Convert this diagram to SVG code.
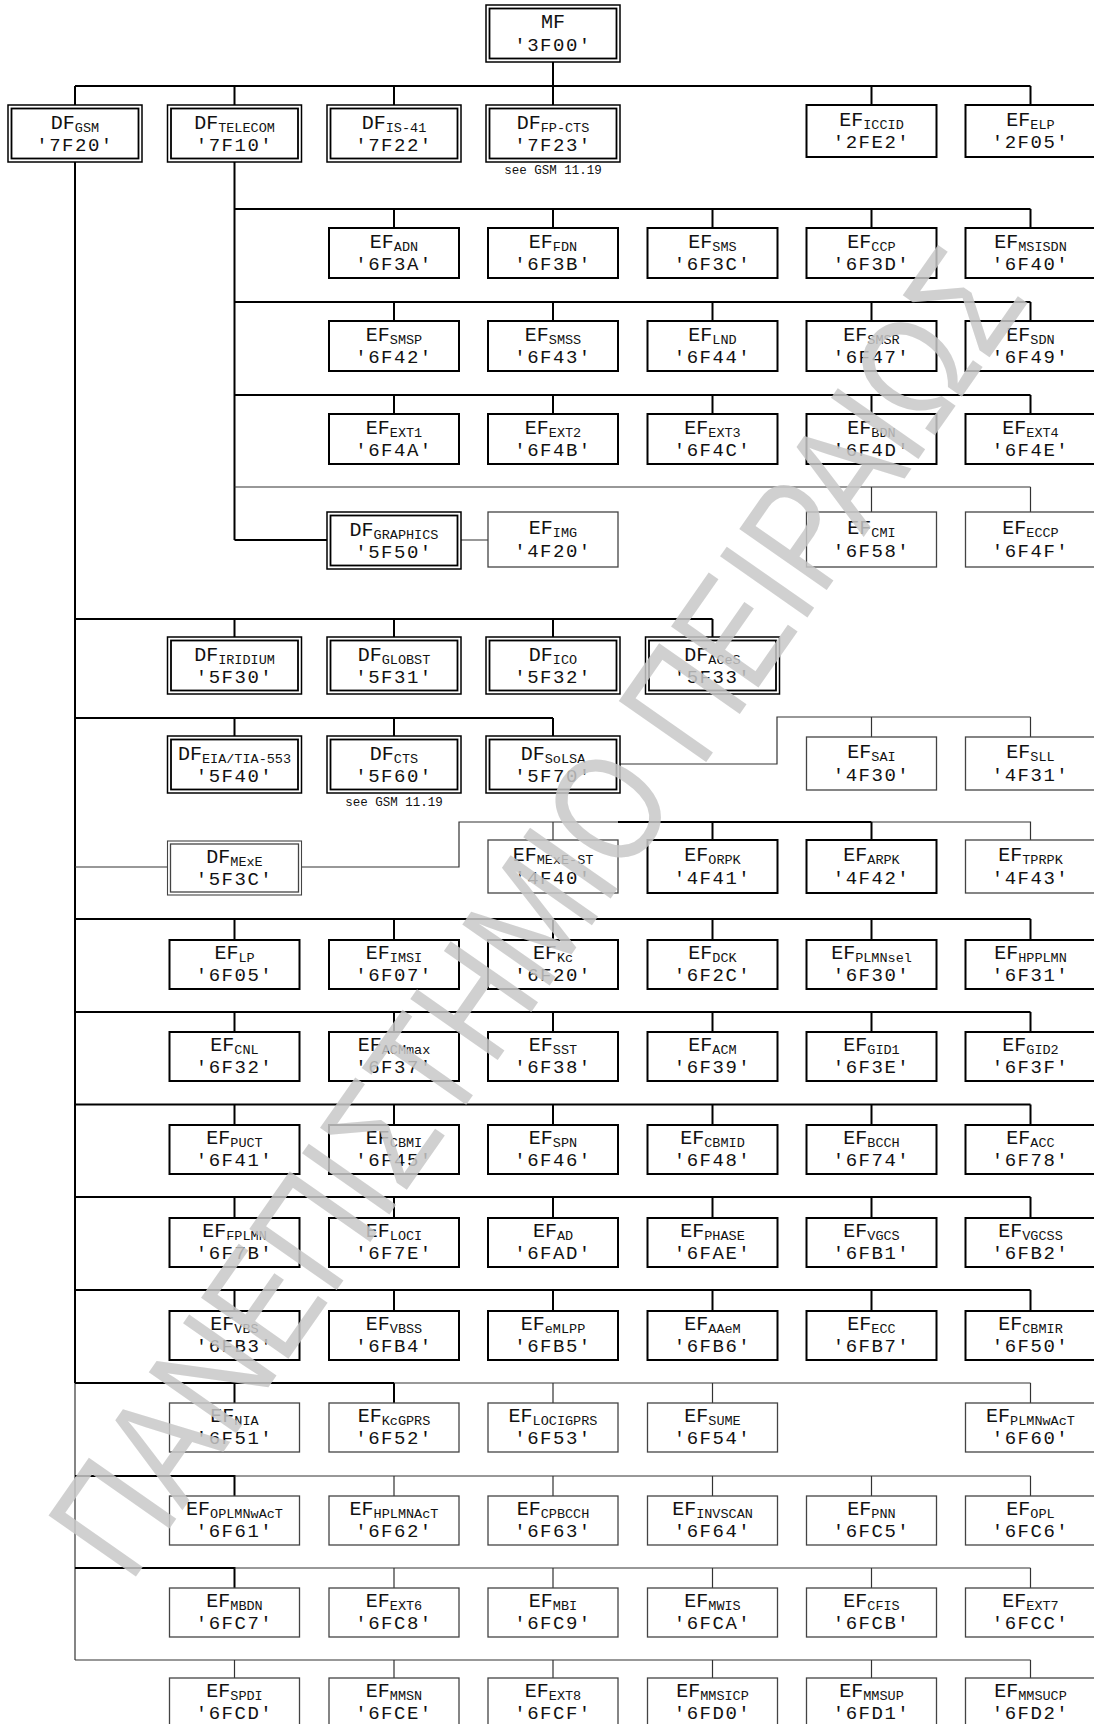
<svg xmlns="http://www.w3.org/2000/svg" width="1094" height="1724" viewBox="0 0 1094 1724">
<style>
.ln{stroke:#000;stroke-width:2;fill:none}
.lg{stroke:#333;stroke-width:1.2;fill:none}
.ef{fill:#fff;stroke:#000;stroke-width:2}
.efg{fill:#fff;stroke:#444;stroke-width:1.3}
.dfo{fill:#fff;stroke:#000;stroke-width:1.5}
.dfi{fill:none;stroke:#000;stroke-width:1.8}
.dfog{fill:#fff;stroke:#444;stroke-width:1.1}
.dfig{fill:none;stroke:#444;stroke-width:1.3}
.t1{font-family:"Liberation Mono",monospace;font-size:20px;text-anchor:middle;fill:#111}
.s{font-size:13.5px}
.t2{font-family:"Liberation Mono",monospace;font-size:19px;letter-spacing:1.5px;text-anchor:middle;fill:#111}
.note{font-family:"Liberation Mono",monospace;font-size:12.5px;text-anchor:middle;fill:#111}
.wm{font-family:"Liberation Sans","DejaVu Sans",sans-serif;font-size:155px;fill:#c8c8c8;fill-opacity:0.85}
</style>
<rect width="1094" height="1724" fill="#fff"/>
<g id="connectors">
<path class="ln" d="M553,62V105M75,86H1030.5M75,86V105M234.5,86V105M394,86V105M871.5,86V105M1030.5,86V105"/>
<path class="ln" d="M75,162V1383M234.5,162V540"/>
<path class="ln" d="M234.5,209H1030.5M394,209V228M553,209V228M712.5,209V228M871.5,209V228M1030.5,209V228"/>
<path class="ln" d="M234.5,302H1030.5M394,302V321M553,302V321M712.5,302V321M871.5,302V321M1030.5,302V321"/>
<path class="ln" d="M234.5,395H1030.5M394,395V414M553,395V414M712.5,395V414M871.5,395V414M1030.5,395V414"/>
<path class="lg" d="M234.5,487H1030.5M871.5,487V512M1030.5,487V512M460,540H488"/>
<path class="ln" d="M234.5,540H327"/>
<path class="ln" d="M75,619H712.5M234.5,619V637M394,619V637M553,619V637M712.5,619V637"/>
<path class="ln" d="M75,718H553M234.5,718V736M394,718V736M553,718V736"/>
<path class="lg" d="M620,764H777V717H1030.5M871.5,717V737M1030.5,717V737"/>
<path class="lg" d="M75,867H168M302,867H459V822H618M553,822V840M871.5,822H1030.5V840"/>
<path class="ln" d="M618,822H871.5M712.5,822V840M871.5,822V840"/>
<path class="ln" d="M75,919H1030.5M234.5,919V940M394,919V940M553,919V940M712.5,919V940M871.5,919V940M1030.5,919V940"/>
<path class="ln" d="M75,1012H1030.5M234.5,1012V1032M394,1012V1032M553,1012V1032M712.5,1012V1032M871.5,1012V1032M1030.5,1012V1032"/>
<path class="ln" d="M75,1104.5H1030.5M234.5,1104.5V1125M394,1104.5V1125M553,1104.5V1125M712.5,1104.5V1125M871.5,1104.5V1125M1030.5,1104.5V1125"/>
<path class="ln" d="M75,1197H1030.5M234.5,1197V1218M394,1197V1218M553,1197V1218M712.5,1197V1218M871.5,1197V1218M1030.5,1197V1218"/>
<path class="ln" d="M75,1290H1030.5M234.5,1290V1311M394,1290V1311M553,1290V1311M712.5,1290V1311M871.5,1290V1311M1030.5,1290V1311"/>
<path class="lg" d="M75,1383V1660"/>
<path class="ln" d="M75,1383H394M234.5,1383V1403M394,1383V1403"/>
<path class="lg" d="M394,1383H1030.5M553,1383V1403M712.5,1383V1403M1030.5,1383V1403"/>
<path class="ln" d="M75,1476H234.5V1496"/>
<path class="lg" d="M234.5,1476H1030.5M394,1476V1496M553,1476V1496M712.5,1476V1496M871.5,1476V1496M1030.5,1476V1496"/>
<path class="ln" d="M75,1568H234.5V1588"/>
<path class="lg" d="M234.5,1568H1030.5M394,1568V1588M553,1568V1588M712.5,1568V1588M871.5,1568V1588M1030.5,1568V1588"/>
<path class="lg" d="M75,1660H1030.5M234.5,1660V1678M394,1660V1678M553,1660V1678M712.5,1660V1678M871.5,1660V1678M1030.5,1660V1678"/>
</g>

<g id="mf"><rect class="dfo" x="486" y="5" width="134" height="57"/><rect class="dfi" x="489.5" y="8.5" width="127" height="50"/><text class="t1" x="553" y="28">MF</text><text class="t2" x="553" y="51">'3F00'</text></g>

<g id="df-gsm"><rect class="dfo" x="8" y="105" width="134" height="57"/><rect class="dfi" x="11.5" y="108.5" width="127" height="50"/><text class="t1" x="75" y="129">DF<tspan class="s" dy="3">GSM</tspan></text><text class="t2" x="75" y="151">'7F20'</text></g>
<g id="df-telecom"><rect class="dfo" x="167.5" y="105" width="134" height="57"/><rect class="dfi" x="171" y="108.5" width="127" height="50"/><text class="t1" x="234.5" y="129">DF<tspan class="s" dy="3">TELECOM</tspan></text><text class="t2" x="234.5" y="151">'7F10'</text></g>
<g id="df-is41"><rect class="dfo" x="327" y="105" width="134" height="57"/><rect class="dfi" x="330.5" y="108.5" width="127" height="50"/><text class="t1" x="394" y="129">DF<tspan class="s" dy="3">IS-41</tspan></text><text class="t2" x="394" y="151">'7F22'</text></g>
<g id="df-fpcts"><rect class="dfo" x="486" y="105" width="134" height="57"/><rect class="dfi" x="489.5" y="108.5" width="127" height="50"/><text class="t1" x="553" y="129">DF<tspan class="s" dy="3">FP-CTS</tspan></text><text class="t2" x="553" y="151">'7F23'</text><text class="note" x="553" y="174">see GSM 11.19</text></g>
<g id="ef-iccid"><rect class="ef" x="806.5" y="105" width="130" height="52"/><text class="t1" x="871.5" y="126">EF<tspan class="s" dy="3">ICCID</tspan></text><text class="t2" x="871.5" y="148">'2FE2'</text></g>
<g id="ef-elp"><rect class="ef" x="965.5" y="105" width="130" height="52"/><text class="t1" x="1030.5" y="126">EF<tspan class="s" dy="3">ELP</tspan></text><text class="t2" x="1030.5" y="148">'2F05'</text></g>

<g id="ef-adn"><rect class="ef" x="329" y="228" width="130" height="50"/><text class="t1" x="394" y="248">EF<tspan class="s" dy="3">ADN</tspan></text><text class="t2" x="394" y="270">'6F3A'</text></g>
<g id="ef-fdn"><rect class="ef" x="488" y="228" width="130" height="50"/><text class="t1" x="553" y="248">EF<tspan class="s" dy="3">FDN</tspan></text><text class="t2" x="553" y="270">'6F3B'</text></g>
<g id="ef-sms"><rect class="ef" x="647.5" y="228" width="130" height="50"/><text class="t1" x="712.5" y="248">EF<tspan class="s" dy="3">SMS</tspan></text><text class="t2" x="712.5" y="270">'6F3C'</text></g>
<g id="ef-ccp"><rect class="ef" x="806.5" y="228" width="130" height="50"/><text class="t1" x="871.5" y="248">EF<tspan class="s" dy="3">CCP</tspan></text><text class="t2" x="871.5" y="270">'6F3D'</text></g>
<g id="ef-msisdn"><rect class="ef" x="965.5" y="228" width="130" height="50"/><text class="t1" x="1030.5" y="248">EF<tspan class="s" dy="3">MSISDN</tspan></text><text class="t2" x="1030.5" y="270">'6F40'</text></g>

<g id="ef-smsp"><rect class="ef" x="329" y="321" width="130" height="50"/><text class="t1" x="394" y="341">EF<tspan class="s" dy="3">SMSP</tspan></text><text class="t2" x="394" y="363">'6F42'</text></g>
<g id="ef-smss"><rect class="ef" x="488" y="321" width="130" height="50"/><text class="t1" x="553" y="341">EF<tspan class="s" dy="3">SMSS</tspan></text><text class="t2" x="553" y="363">'6F43'</text></g>
<g id="ef-lnd"><rect class="ef" x="647.5" y="321" width="130" height="50"/><text class="t1" x="712.5" y="341">EF<tspan class="s" dy="3">LND</tspan></text><text class="t2" x="712.5" y="363">'6F44'</text></g>
<g id="ef-smsr"><rect class="ef" x="806.5" y="321" width="130" height="50"/><text class="t1" x="871.5" y="341">EF<tspan class="s" dy="3">SMSR</tspan></text><text class="t2" x="871.5" y="363">'6F47'</text></g>
<g id="ef-sdn"><rect class="ef" x="965.5" y="321" width="130" height="50"/><text class="t1" x="1030.5" y="341">EF<tspan class="s" dy="3">SDN</tspan></text><text class="t2" x="1030.5" y="363">'6F49'</text></g>

<g id="ef-ext1"><rect class="ef" x="329" y="414" width="130" height="50"/><text class="t1" x="394" y="434">EF<tspan class="s" dy="3">EXT1</tspan></text><text class="t2" x="394" y="456">'6F4A'</text></g>
<g id="ef-ext2"><rect class="ef" x="488" y="414" width="130" height="50"/><text class="t1" x="553" y="434">EF<tspan class="s" dy="3">EXT2</tspan></text><text class="t2" x="553" y="456">'6F4B'</text></g>
<g id="ef-ext3"><rect class="ef" x="647.5" y="414" width="130" height="50"/><text class="t1" x="712.5" y="434">EF<tspan class="s" dy="3">EXT3</tspan></text><text class="t2" x="712.5" y="456">'6F4C'</text></g>
<g id="ef-bdn"><rect class="ef" x="806.5" y="414" width="130" height="50"/><text class="t1" x="871.5" y="434">EF<tspan class="s" dy="3">BDN</tspan></text><text class="t2" x="871.5" y="456">'6F4D'</text></g>
<g id="ef-ext4"><rect class="ef" x="965.5" y="414" width="130" height="50"/><text class="t1" x="1030.5" y="434">EF<tspan class="s" dy="3">EXT4</tspan></text><text class="t2" x="1030.5" y="456">'6F4E'</text></g>

<g id="df-graphics"><rect class="dfo" x="327" y="512" width="134" height="57"/><rect class="dfi" x="330.5" y="515.5" width="127" height="50"/><text class="t1" x="394" y="536">DF<tspan class="s" dy="3">GRAPHICS</tspan></text><text class="t2" x="394" y="558">'5F50'</text></g>
<g id="ef-img"><rect class="efg" x="488" y="512" width="130" height="55"/><text class="t1" x="553" y="534">EF<tspan class="s" dy="3">IMG</tspan></text><text class="t2" x="553" y="557">'4F20'</text></g>
<g id="ef-cmi"><rect class="efg" x="806.5" y="512" width="130" height="55"/><text class="t1" x="871.5" y="534">EF<tspan class="s" dy="3">CMI</tspan></text><text class="t2" x="871.5" y="557">'6F58'</text></g>
<g id="ef-eccp"><rect class="efg" x="965.5" y="512" width="130" height="55"/><text class="t1" x="1030.5" y="534">EF<tspan class="s" dy="3">ECCP</tspan></text><text class="t2" x="1030.5" y="557">'6F4F'</text></g>

<g id="df-iridium"><rect class="dfo" x="167.5" y="637" width="134" height="57"/><rect class="dfi" x="171" y="640.5" width="127" height="50"/><text class="t1" x="234.5" y="661">DF<tspan class="s" dy="3">IRIDIUM</tspan></text><text class="t2" x="234.5" y="683">'5F30'</text></g>
<g id="df-globst"><rect class="dfo" x="327" y="637" width="134" height="57"/><rect class="dfi" x="330.5" y="640.5" width="127" height="50"/><text class="t1" x="394" y="661">DF<tspan class="s" dy="3">GLOBST</tspan></text><text class="t2" x="394" y="683">'5F31'</text></g>
<g id="df-ico"><rect class="dfo" x="486" y="637" width="134" height="57"/><rect class="dfi" x="489.5" y="640.5" width="127" height="50"/><text class="t1" x="553" y="661">DF<tspan class="s" dy="3">ICO</tspan></text><text class="t2" x="553" y="683">'5F32'</text></g>
<g id="df-aces"><rect class="dfo" x="645.5" y="637" width="134" height="57"/><rect class="dfi" x="649" y="640.5" width="127" height="50"/><text class="t1" x="712.5" y="661">DF<tspan class="s" dy="3">ACeS</tspan></text><text class="t2" x="712.5" y="683">'5F33'</text></g>

<g id="df-eia"><rect class="dfo" x="167.5" y="736" width="134" height="57"/><rect class="dfi" x="171" y="739.5" width="127" height="50"/><text class="t1" x="234.5" y="760">DF<tspan class="s" dy="3">EIA/TIA-553</tspan></text><text class="t2" x="234.5" y="782">'5F40'</text></g>
<g id="df-cts"><rect class="dfo" x="327" y="736" width="134" height="57"/><rect class="dfi" x="330.5" y="739.5" width="127" height="50"/><text class="t1" x="394" y="760">DF<tspan class="s" dy="3">CTS</tspan></text><text class="t2" x="394" y="782">'5F60'</text><text class="note" x="394" y="806">see GSM 11.19</text></g>
<g id="df-solsa"><rect class="dfo" x="486" y="736" width="134" height="57"/><rect class="dfi" x="489.5" y="739.5" width="127" height="50"/><text class="t1" x="553" y="760">DF<tspan class="s" dy="3">SoLSA</tspan></text><text class="t2" x="553" y="782">'5F70'</text></g>
<g id="ef-sai"><rect class="efg" x="806.5" y="737" width="130" height="53"/><text class="t1" x="871.5" y="758">EF<tspan class="s" dy="3">SAI</tspan></text><text class="t2" x="871.5" y="781">'4F30'</text></g>
<g id="ef-sll"><rect class="efg" x="965.5" y="737" width="130" height="53"/><text class="t1" x="1030.5" y="758">EF<tspan class="s" dy="3">SLL</tspan></text><text class="t2" x="1030.5" y="781">'4F31'</text></g>

<g id="df-mexe"><rect class="dfog" x="167.5" y="841" width="134" height="54"/><rect class="dfig" x="170.5" y="844" width="128" height="48"/><text class="t1" x="234.5" y="863">DF<tspan class="s" dy="3">MExE</tspan></text><text class="t2" x="234.5" y="885">'5F3C'</text></g>
<g id="ef-mexe-st"><rect class="efg" x="488" y="840" width="130" height="53"/><text class="t1" x="553" y="861">EF<tspan class="s" dy="3">MExE-ST</tspan></text><text class="t2" x="553" y="884">'4F40'</text></g>
<g id="ef-orpk"><rect class="ef" x="647.5" y="840" width="130" height="53"/><text class="t1" x="712.5" y="861">EF<tspan class="s" dy="3">ORPK</tspan></text><text class="t2" x="712.5" y="884">'4F41'</text></g>
<g id="ef-arpk"><rect class="ef" x="806.5" y="840" width="130" height="53"/><text class="t1" x="871.5" y="861">EF<tspan class="s" dy="3">ARPK</tspan></text><text class="t2" x="871.5" y="884">'4F42'</text></g>
<g id="ef-tprpk"><rect class="efg" x="965.5" y="840" width="130" height="53"/><text class="t1" x="1030.5" y="861">EF<tspan class="s" dy="3">TPRPK</tspan></text><text class="t2" x="1030.5" y="884">'4F43'</text></g>

<g id="ef-lp"><rect class="ef" x="169.5" y="940" width="130" height="49"/><text class="t1" x="234.5" y="959">EF<tspan class="s" dy="3">LP</tspan></text><text class="t2" x="234.5" y="981">'6F05'</text></g>
<g id="ef-imsi"><rect class="ef" x="329" y="940" width="130" height="49"/><text class="t1" x="394" y="959">EF<tspan class="s" dy="3">IMSI</tspan></text><text class="t2" x="394" y="981">'6F07'</text></g>
<g id="ef-kc"><rect class="ef" x="488" y="940" width="130" height="49"/><text class="t1" x="553" y="959">EF<tspan class="s" dy="3">Kc</tspan></text><text class="t2" x="553" y="981">'6F20'</text></g>
<g id="ef-dck"><rect class="ef" x="647.5" y="940" width="130" height="49"/><text class="t1" x="712.5" y="959">EF<tspan class="s" dy="3">DCK</tspan></text><text class="t2" x="712.5" y="981">'6F2C'</text></g>
<g id="ef-plmnsel"><rect class="ef" x="806.5" y="940" width="130" height="49"/><text class="t1" x="871.5" y="959">EF<tspan class="s" dy="3">PLMNsel</tspan></text><text class="t2" x="871.5" y="981">'6F30'</text></g>
<g id="ef-hpplmn"><rect class="ef" x="965.5" y="940" width="130" height="49"/><text class="t1" x="1030.5" y="959">EF<tspan class="s" dy="3">HPPLMN</tspan></text><text class="t2" x="1030.5" y="981">'6F31'</text></g>

<g id="ef-cnl"><rect class="ef" x="169.5" y="1032" width="130" height="49"/><text class="t1" x="234.5" y="1051">EF<tspan class="s" dy="3">CNL</tspan></text><text class="t2" x="234.5" y="1073">'6F32'</text></g>
<g id="ef-acmmax"><rect class="ef" x="329" y="1032" width="130" height="49"/><text class="t1" x="394" y="1051">EF<tspan class="s" dy="3">ACMmax</tspan></text><text class="t2" x="394" y="1073">'6F37'</text></g>
<g id="ef-sst"><rect class="ef" x="488" y="1032" width="130" height="49"/><text class="t1" x="553" y="1051">EF<tspan class="s" dy="3">SST</tspan></text><text class="t2" x="553" y="1073">'6F38'</text></g>
<g id="ef-acm"><rect class="ef" x="647.5" y="1032" width="130" height="49"/><text class="t1" x="712.5" y="1051">EF<tspan class="s" dy="3">ACM</tspan></text><text class="t2" x="712.5" y="1073">'6F39'</text></g>
<g id="ef-gid1"><rect class="ef" x="806.5" y="1032" width="130" height="49"/><text class="t1" x="871.5" y="1051">EF<tspan class="s" dy="3">GID1</tspan></text><text class="t2" x="871.5" y="1073">'6F3E'</text></g>
<g id="ef-gid2"><rect class="ef" x="965.5" y="1032" width="130" height="49"/><text class="t1" x="1030.5" y="1051">EF<tspan class="s" dy="3">GID2</tspan></text><text class="t2" x="1030.5" y="1073">'6F3F'</text></g>

<g id="ef-puct"><rect class="ef" x="169.5" y="1125" width="130" height="49"/><text class="t1" x="234.5" y="1144">EF<tspan class="s" dy="3">PUCT</tspan></text><text class="t2" x="234.5" y="1166">'6F41'</text></g>
<g id="ef-cbmi"><rect class="ef" x="329" y="1125" width="130" height="49"/><text class="t1" x="394" y="1144">EF<tspan class="s" dy="3">CBMI</tspan></text><text class="t2" x="394" y="1166">'6F45'</text></g>
<g id="ef-spn"><rect class="ef" x="488" y="1125" width="130" height="49"/><text class="t1" x="553" y="1144">EF<tspan class="s" dy="3">SPN</tspan></text><text class="t2" x="553" y="1166">'6F46'</text></g>
<g id="ef-cbmid"><rect class="ef" x="647.5" y="1125" width="130" height="49"/><text class="t1" x="712.5" y="1144">EF<tspan class="s" dy="3">CBMID</tspan></text><text class="t2" x="712.5" y="1166">'6F48'</text></g>
<g id="ef-bcch"><rect class="ef" x="806.5" y="1125" width="130" height="49"/><text class="t1" x="871.5" y="1144">EF<tspan class="s" dy="3">BCCH</tspan></text><text class="t2" x="871.5" y="1166">'6F74'</text></g>
<g id="ef-acc"><rect class="ef" x="965.5" y="1125" width="130" height="49"/><text class="t1" x="1030.5" y="1144">EF<tspan class="s" dy="3">ACC</tspan></text><text class="t2" x="1030.5" y="1166">'6F78'</text></g>

<g id="ef-fplmn"><rect class="ef" x="169.5" y="1218" width="130" height="49"/><text class="t1" x="234.5" y="1237">EF<tspan class="s" dy="3">FPLMN</tspan></text><text class="t2" x="234.5" y="1259">'6F7B'</text></g>
<g id="ef-loci"><rect class="ef" x="329" y="1218" width="130" height="49"/><text class="t1" x="394" y="1237">EF<tspan class="s" dy="3">LOCI</tspan></text><text class="t2" x="394" y="1259">'6F7E'</text></g>
<g id="ef-ad"><rect class="ef" x="488" y="1218" width="130" height="49"/><text class="t1" x="553" y="1237">EF<tspan class="s" dy="3">AD</tspan></text><text class="t2" x="553" y="1259">'6FAD'</text></g>
<g id="ef-phase"><rect class="ef" x="647.5" y="1218" width="130" height="49"/><text class="t1" x="712.5" y="1237">EF<tspan class="s" dy="3">PHASE</tspan></text><text class="t2" x="712.5" y="1259">'6FAE'</text></g>
<g id="ef-vgcs"><rect class="ef" x="806.5" y="1218" width="130" height="49"/><text class="t1" x="871.5" y="1237">EF<tspan class="s" dy="3">VGCS</tspan></text><text class="t2" x="871.5" y="1259">'6FB1'</text></g>
<g id="ef-vgcss"><rect class="ef" x="965.5" y="1218" width="130" height="49"/><text class="t1" x="1030.5" y="1237">EF<tspan class="s" dy="3">VGCSS</tspan></text><text class="t2" x="1030.5" y="1259">'6FB2'</text></g>

<g id="ef-vbs"><rect class="ef" x="169.5" y="1311" width="130" height="49"/><text class="t1" x="234.5" y="1330">EF<tspan class="s" dy="3">VBS</tspan></text><text class="t2" x="234.5" y="1352">'6FB3'</text></g>
<g id="ef-vbss"><rect class="ef" x="329" y="1311" width="130" height="49"/><text class="t1" x="394" y="1330">EF<tspan class="s" dy="3">VBSS</tspan></text><text class="t2" x="394" y="1352">'6FB4'</text></g>
<g id="ef-emlpp"><rect class="ef" x="488" y="1311" width="130" height="49"/><text class="t1" x="553" y="1330">EF<tspan class="s" dy="3">eMLPP</tspan></text><text class="t2" x="553" y="1352">'6FB5'</text></g>
<g id="ef-aaem"><rect class="ef" x="647.5" y="1311" width="130" height="49"/><text class="t1" x="712.5" y="1330">EF<tspan class="s" dy="3">AAeM</tspan></text><text class="t2" x="712.5" y="1352">'6FB6'</text></g>
<g id="ef-ecc"><rect class="ef" x="806.5" y="1311" width="130" height="49"/><text class="t1" x="871.5" y="1330">EF<tspan class="s" dy="3">ECC</tspan></text><text class="t2" x="871.5" y="1352">'6FB7'</text></g>
<g id="ef-cbmir"><rect class="ef" x="965.5" y="1311" width="130" height="49"/><text class="t1" x="1030.5" y="1330">EF<tspan class="s" dy="3">CBMIR</tspan></text><text class="t2" x="1030.5" y="1352">'6F50'</text></g>

<g id="ef-nia"><rect class="efg" x="169.5" y="1403" width="130" height="49"/><text class="t1" x="234.5" y="1422">EF<tspan class="s" dy="3">NIA</tspan></text><text class="t2" x="234.5" y="1444">'6F51'</text></g>
<g id="ef-kcgprs"><rect class="efg" x="329" y="1403" width="130" height="49"/><text class="t1" x="394" y="1422">EF<tspan class="s" dy="3">KcGPRS</tspan></text><text class="t2" x="394" y="1444">'6F52'</text></g>
<g id="ef-locigprs"><rect class="efg" x="488" y="1403" width="130" height="49"/><text class="t1" x="553" y="1422">EF<tspan class="s" dy="3">LOCIGPRS</tspan></text><text class="t2" x="553" y="1444">'6F53'</text></g>
<g id="ef-sume"><rect class="efg" x="647.5" y="1403" width="130" height="49"/><text class="t1" x="712.5" y="1422">EF<tspan class="s" dy="3">SUME</tspan></text><text class="t2" x="712.5" y="1444">'6F54'</text></g>
<g id="ef-plmnwact"><rect class="efg" x="965.5" y="1403" width="130" height="49"/><text class="t1" x="1030.5" y="1422">EF<tspan class="s" dy="3">PLMNwAcT</tspan></text><text class="t2" x="1030.5" y="1444">'6F60'</text></g>

<g id="ef-oplmnwact"><rect class="efg" x="169.5" y="1496" width="130" height="49"/><text class="t1" x="234.5" y="1515">EF<tspan class="s" dy="3">OPLMNwAcT</tspan></text><text class="t2" x="234.5" y="1537">'6F61'</text></g>
<g id="ef-hplmnact"><rect class="efg" x="329" y="1496" width="130" height="49"/><text class="t1" x="394" y="1515">EF<tspan class="s" dy="3">HPLMNAcT</tspan></text><text class="t2" x="394" y="1537">'6F62'</text></g>
<g id="ef-cpbcch"><rect class="efg" x="488" y="1496" width="130" height="49"/><text class="t1" x="553" y="1515">EF<tspan class="s" dy="3">CPBCCH</tspan></text><text class="t2" x="553" y="1537">'6F63'</text></g>
<g id="ef-invscan"><rect class="efg" x="647.5" y="1496" width="130" height="49"/><text class="t1" x="712.5" y="1515">EF<tspan class="s" dy="3">INVSCAN</tspan></text><text class="t2" x="712.5" y="1537">'6F64'</text></g>
<g id="ef-pnn"><rect class="efg" x="806.5" y="1496" width="130" height="49"/><text class="t1" x="871.5" y="1515">EF<tspan class="s" dy="3">PNN</tspan></text><text class="t2" x="871.5" y="1537">'6FC5'</text></g>
<g id="ef-opl"><rect class="efg" x="965.5" y="1496" width="130" height="49"/><text class="t1" x="1030.5" y="1515">EF<tspan class="s" dy="3">OPL</tspan></text><text class="t2" x="1030.5" y="1537">'6FC6'</text></g>

<g id="ef-mbdn"><rect class="efg" x="169.5" y="1588" width="130" height="49"/><text class="t1" x="234.5" y="1607">EF<tspan class="s" dy="3">MBDN</tspan></text><text class="t2" x="234.5" y="1629">'6FC7'</text></g>
<g id="ef-ext6"><rect class="efg" x="329" y="1588" width="130" height="49"/><text class="t1" x="394" y="1607">EF<tspan class="s" dy="3">EXT6</tspan></text><text class="t2" x="394" y="1629">'6FC8'</text></g>
<g id="ef-mbi"><rect class="efg" x="488" y="1588" width="130" height="49"/><text class="t1" x="553" y="1607">EF<tspan class="s" dy="3">MBI</tspan></text><text class="t2" x="553" y="1629">'6FC9'</text></g>
<g id="ef-mwis"><rect class="efg" x="647.5" y="1588" width="130" height="49"/><text class="t1" x="712.5" y="1607">EF<tspan class="s" dy="3">MWIS</tspan></text><text class="t2" x="712.5" y="1629">'6FCA'</text></g>
<g id="ef-cfis"><rect class="efg" x="806.5" y="1588" width="130" height="49"/><text class="t1" x="871.5" y="1607">EF<tspan class="s" dy="3">CFIS</tspan></text><text class="t2" x="871.5" y="1629">'6FCB'</text></g>
<g id="ef-ext7"><rect class="efg" x="965.5" y="1588" width="130" height="49"/><text class="t1" x="1030.5" y="1607">EF<tspan class="s" dy="3">EXT7</tspan></text><text class="t2" x="1030.5" y="1629">'6FCC'</text></g>

<g id="ef-spdi"><rect class="efg" x="169.5" y="1678" width="130" height="50"/><text class="t1" x="234.5" y="1697">EF<tspan class="s" dy="3">SPDI</tspan></text><text class="t2" x="234.5" y="1719">'6FCD'</text></g>
<g id="ef-mmsn"><rect class="efg" x="329" y="1678" width="130" height="50"/><text class="t1" x="394" y="1697">EF<tspan class="s" dy="3">MMSN</tspan></text><text class="t2" x="394" y="1719">'6FCE'</text></g>
<g id="ef-ext8"><rect class="efg" x="488" y="1678" width="130" height="50"/><text class="t1" x="553" y="1697">EF<tspan class="s" dy="3">EXT8</tspan></text><text class="t2" x="553" y="1719">'6FCF'</text></g>
<g id="ef-mmsicp"><rect class="efg" x="647.5" y="1678" width="130" height="50"/><text class="t1" x="712.5" y="1697">EF<tspan class="s" dy="3">MMSICP</tspan></text><text class="t2" x="712.5" y="1719">'6FD0'</text></g>
<g id="ef-mmsup"><rect class="efg" x="806.5" y="1678" width="130" height="50"/><text class="t1" x="871.5" y="1697">EF<tspan class="s" dy="3">MMSUP</tspan></text><text class="t2" x="871.5" y="1719">'6FD1'</text></g>
<g id="ef-mmsucp"><rect class="efg" x="965.5" y="1678" width="130" height="50"/><text class="t1" x="1030.5" y="1697">EF<tspan class="s" dy="3">MMSUCP</tspan></text><text class="t2" x="1030.5" y="1719">'6FD2'</text></g>

<g id="watermark"><text class="wm" x="130" y="1585" transform="rotate(-55 130 1585)" textLength="1570" lengthAdjust="spacingAndGlyphs">ΠΑΝΕΠΙΣΤΗΜΙΟ ΠΕΙΡΑΙΩΣ</text></g>
</svg>
